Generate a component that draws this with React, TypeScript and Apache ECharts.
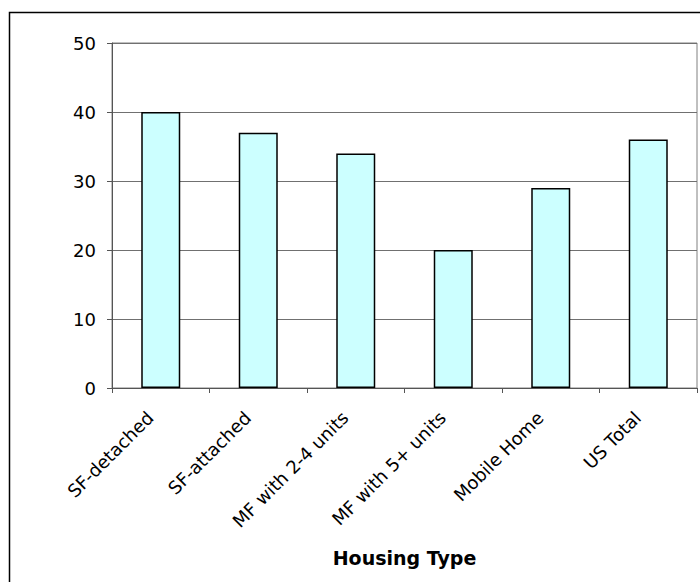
import React, { useEffect, useRef } from "react";
import * as echarts from "echarts";

const categories = ["SF-detached", "SF-attached", "MF with 2-4 units", "MF with 5+ units", "Mobile Home", "US Total"];
const values = [40, 37, 34, 20, 29, 36];
const yTicks = { min: 0, max: 50, interval: 10 };
const xTitle = "Housing Type";

const FONT = "'DejaVu Sans', Verdana, sans-serif";

export default function App() {
  const ref = useRef<HTMLDivElement>(null);
  useEffect(() => {
    const chart = echarts.init(ref.current!, null, { renderer: "svg" });
    chart.setOption({
      animation: false,
      backgroundColor: "#ffffff",
      graphic: [
        {
          type: "rect",
          shape: { x: 9.5, y: 12.5, width: 720, height: 620 },
          style: { fill: "none", stroke: "#000000", lineWidth: 1.5 },
          silent: true,
          z: 100,
        },
      ],
      grid: {
        left: 112,
        top: 43,
        right: 3,
        bottom: 194,
        show: true,
        borderColor: "#808080",
        borderWidth: 1,
        backgroundColor: "transparent",
      },
      xAxis: {
        type: "category",
        data: categories,
        boundaryGap: true,
        name: xTitle,
        nameLocation: "middle",
        nameGap: 160,
        nameTextStyle: { fontFamily: FONT, fontWeight: "bold", fontSize: 19, color: "#000" },
        axisLine: { show: true, lineStyle: { color: "#555", width: 1 } },
        axisTick: { show: true, alignWithLabel: false, length: 5, lineStyle: { color: "#555" } },
        axisLabel: {
          rotate: 45,
          interval: 0,
          margin: 16,
          padding: [0, 15, 0, 0],
          fontFamily: FONT,
          fontSize: 18,
          color: "#000",
        },
        splitLine: { show: false },
      },
      yAxis: {
        type: "value",
        min: yTicks.min,
        max: yTicks.max,
        interval: yTicks.interval,
        axisLine: { show: true, lineStyle: { color: "#555", width: 1 } },
        axisTick: { show: true, length: 5, lineStyle: { color: "#555" } },
        axisLabel: { fontFamily: FONT, fontSize: 18, color: "#000", margin: 16 },
        splitLine: { show: true, lineStyle: { color: "#707070", width: 1 } },
      },
      series: [
        {
          type: "bar",
          data: values,
          barWidth: "40%",
          itemStyle: { color: "#CCFFFF", borderColor: "#000000", borderWidth: 1.5 },
        },
      ],
    });
    return () => chart.dispose();
  }, []);
  return (
    <div
      ref={ref}
      style={{ position: "fixed", left: 0, top: 0, width: 700, height: 582, background: "#fff" }}
    />
  );
}
